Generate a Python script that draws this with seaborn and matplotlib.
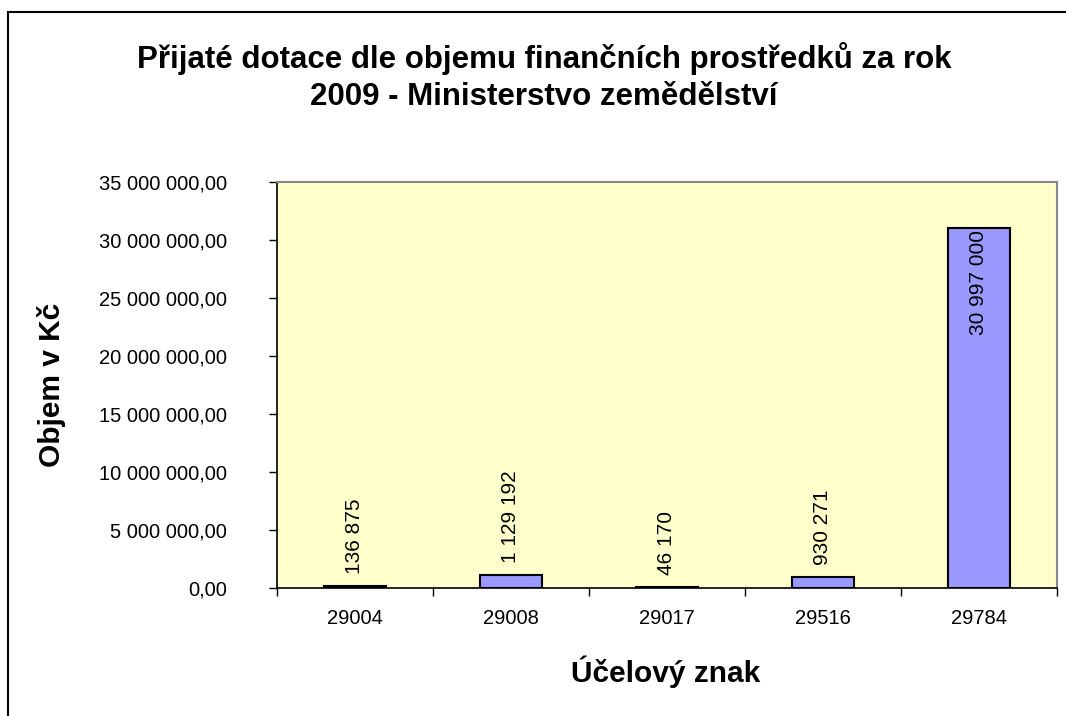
import matplotlib
matplotlib.use("Agg")
import matplotlib.pyplot as plt
import seaborn as sns
import pandas as pd
from matplotlib.patches import Rectangle
from matplotlib.ticker import FuncFormatter, FixedLocator

categories = ["29004", "29008", "29017", "29516", "29784"]
values = [136875, 1129192, 46170, 930271, 30997000]
value_labels = ["136 875", "1 129 192", "46 170", "930 271", "30 997 000"]
title = "Přijaté dotace dle objemu finančních prostředků za rok\n2009 - Ministerstvo zemědělství"
xlabel = "Účelový znak"
ylabel = "Objem v Kč"

sns.set_theme(style="white")
plt.rcParams['font.family'] = ['Liberation Sans', 'DejaVu Sans']
plt.rcParams['text.color'] = 'black'

df = pd.DataFrame({"cat": categories, "val": values})

fig = plt.figure(figsize=(10.66, 7.16), dpi=100)
ax = fig.add_axes([277/1066, 1-588/716, (1057-277)/1066, (588-182)/716])
sns.barplot(data=df, x="cat", y="val", ax=ax, color="#9999FF", saturation=1,
            edgecolor="black", linewidth=1.5, width=0.4)
ax.set_facecolor("#FFFFCC")
ax.set_xlim(-0.5, len(categories)-0.5)
ax.set_ylim(0, 35_000_000)
ax.yaxis.set_major_locator(FixedLocator([i*5_000_000 for i in range(8)]))
ax.yaxis.set_major_formatter(FuncFormatter(lambda v, p: f"{v:,.2f}".replace(",", " ").replace(".", ",")))

# x ticks between categories, labels at centers
ax.set_xticks([i-0.5 for i in range(len(categories)+1)])
ax.set_xticklabels([""]*(len(categories)+1))
ax.set_xticks(range(len(categories)), minor=True)
ax.set_xticklabels(categories, minor=True)
ax.tick_params(axis="x", which="minor", length=0, labelsize=14.5, pad=15, colors="black")
ax.tick_params(axis="x", which="major", length=6, width=1, direction="out", bottom=True, colors="black")
ax.tick_params(axis="y", length=6, width=1, direction="out", left=True, labelsize=14.5, pad=30, colors="black")

for s in ["left", "bottom"]:
    ax.spines[s].set_color("black")
    ax.spines[s].set_linewidth(1.2)
for s in ["top", "right"]:
    ax.spines[s].set_color("#888888")
    ax.spines[s].set_linewidth(1.5)

ymax = 35_000_000
for i, (v, lab) in enumerate(zip(values, value_labels)):
    if v > 0.8*ymax:
        ax.text(i, v - ymax*0.004, lab, rotation=90, ha="center", va="top", fontsize=15, color="black")
    else:
        ax.text(i, v + ymax*0.03, lab, rotation=90, ha="center", va="bottom", fontsize=15, color="black")

ax.set_xlabel("")
ax.set_ylabel("")
fig.text(666/1066, 1-672/716, xlabel, ha="center", va="center", fontsize=21.5, fontweight="bold")
fig.text(52/1066, 1-385/716, ylabel, ha="center", va="center", rotation=90, fontsize=21.5, fontweight="bold")
fig.text(544/1066, 1-77/716, title, ha="center", va="center", fontsize=22.5, fontweight="bold", linespacing=1.3)

fig.patches.append(Rectangle((8/1066, -0.05), 1.2, 1-12/716+0.05, transform=fig.transFigure,
                             fill=False, edgecolor="black", linewidth=1.5))

fig.savefig("out.png", dpi=100)
